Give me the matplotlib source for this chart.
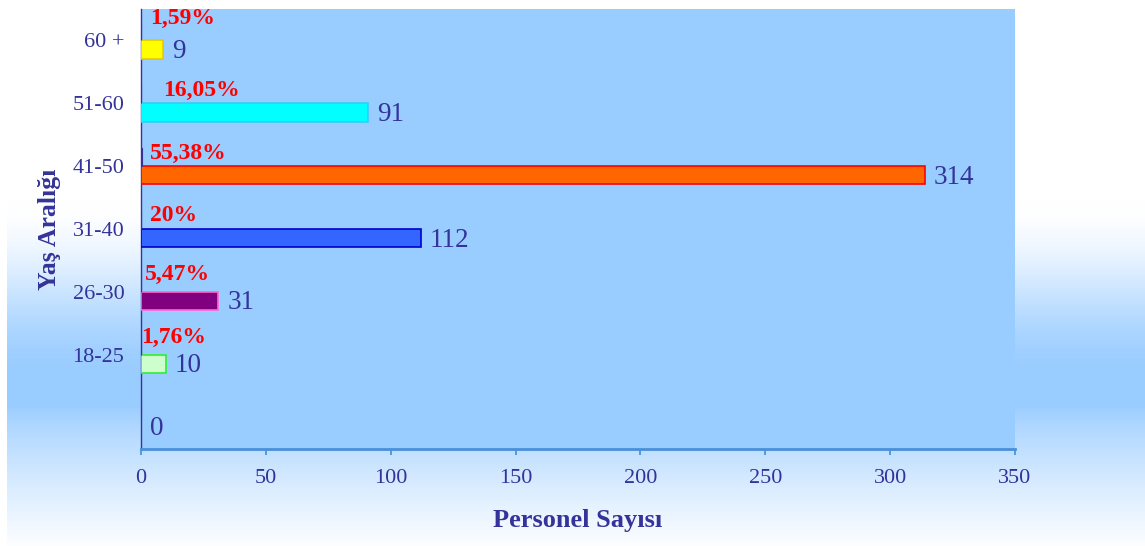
import numpy as np
import matplotlib
matplotlib.use("Agg")
import matplotlib.pyplot as plt

# ---- data ----
categories = ["", "18-25", "26-30", "31-40", "41-50", "51-60", "60 +"]
counts = [0, 10, 31, 112, 314, 91, 9]
percents = [0.0, 1.76, 5.47, 20.0, 55.38, 16.05, 1.59]
pct_labels = ["", "1,76%", "5,47%", "20%", "55,38%", "16,05%", "1,59%"]
bar_colors = ["none", "#CCFFCC", "#800080", "#3366FF", "#FF6600", "#00FFFF", "#FFFF00"]
edge_colors = ["none", "#33EE33", "#FF66CC", "#0000CC", "#FF0000", "#33CCFF", "#E6C800"]
xticks = [0, 50, 100, 150, 200, 250, 300, 350]
xlabel = "Personel Sayısı"
ylabel = "Yaş Aralığı"

# label pixel offsets (position tweaks, not data)
pct_offsets = [(0, 0), (0, 8), (4, 8), (9, 4), (9, 4), (22, 4), (9, 13)]

SERIF = ["Liberation Serif", "DejaVu Serif"]
TXT = "#333399"

fig = plt.figure(figsize=(11.45, 5.46), dpi=100)
fig.patch.set_facecolor("white")

# background gradient
bg = fig.add_axes([7 / 1145, 0, 1 - 7 / 1145, 1], zorder=-10)
H = 546
ys = np.arange(H)
t = np.zeros(H)
for i, y in enumerate(ys):
    if y < 200:
        t[i] = 0.0
    elif y < 380:
        s = (y - 200) / 180
        t[i] = s * s * (3 - 2 * s)
    elif y < 405:
        t[i] = 1.0
    else:
        s = (y - 405) / 141
        t[i] = 1 - 0.98 * (s ** 0.8)
blue = np.array([0x99, 0xCC, 0xFF]) / 255
white = np.array([1, 1, 1.0])
img = white[None, None, :] * (1 - t[:, None, None]) + blue[None, None, :] * t[:, None, None]
bg.imshow(img, aspect="auto", extent=[0, 1, 0, 1], origin="upper")
bg.set_axis_off()

ax = fig.add_axes([141 / 1145, 97 / 546, (1015 - 141) / 1145, 440 / 546])
ax.set_facecolor("#99CCFF")

pos = np.arange(len(categories))
h = 0.29
ax.barh(pos - h / 2, counts, height=h, color=bar_colors, edgecolor=edge_colors, linewidth=1.2, zorder=3)
ax.barh(pos + h / 2, [p / 100 for p in percents], height=h, color="#333399", edgecolor="#333399",
        linewidth=0.8, zorder=3)

for k in range(len(categories)):
    ax.annotate(str(counts[k]), xy=(counts[k], pos[k] - h / 2), xytext=(9, -2),
                textcoords="offset pixels", ha="left", va="center",
                fontsize=19.5, color=TXT, family=SERIF, zorder=5)
    if pct_labels[k]:
        dx, dy = pct_offsets[k]
        ax.annotate(pct_labels[k], xy=(0, pos[k] + h / 2), xytext=(dx, dy),
                    textcoords="offset pixels", ha="left", va="center",
                    fontsize=17, color="#FF0000", fontweight="bold", family=SERIF, zorder=5)

ax.set_xlim(0, 350)
ax.set_ylim(-0.5, 6.5)
ax.set_xticks(xticks)
ax.set_xticklabels([str(v) for v in xticks], family=SERIF, fontsize=16, color=TXT)
ax.set_yticks(pos)
ax.set_yticklabels(categories, family=SERIF, fontsize=16, color=TXT)
ax.tick_params(axis="y", length=0, pad=12)
ax.tick_params(axis="x", length=4.5, width=1.2, color="#3A8FE0", pad=10)

for s in ["top", "right"]:
    ax.spines[s].set_visible(False)
ax.spines["left"].set_color("#333399")
ax.spines["left"].set_linewidth(1.0)
ax.spines["bottom"].set_color("#4A90D9")
ax.spines["bottom"].set_linewidth(2.0)

ax.set_xlabel(xlabel, family=SERIF, fontsize=19, fontweight="bold", color=TXT, labelpad=15)
ax.set_ylabel(ylabel, family=SERIF, fontsize=18.5, fontweight="bold", color=TXT, labelpad=8)

fig.savefig("out.png", dpi=100)
